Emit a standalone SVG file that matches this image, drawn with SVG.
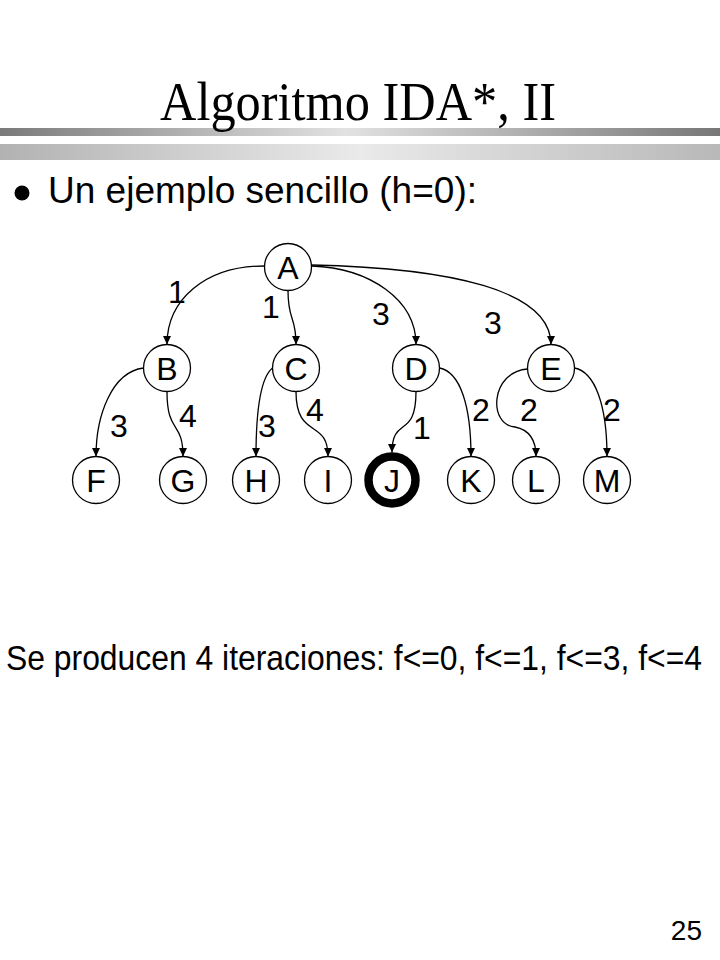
<svg xmlns="http://www.w3.org/2000/svg" width="720" height="960" viewBox="0 0 720 960">
<defs>
<linearGradient id="bar1" x1="0" y1="0" x2="1" y2="0">
<stop offset="0" stop-color="#7a7a7a"/>
<stop offset="0.48" stop-color="#e2e2e2"/>
<stop offset="1" stop-color="#777777"/>
</linearGradient>
<linearGradient id="bar2" x1="0" y1="0" x2="1" y2="0">
<stop offset="0" stop-color="#b2b2b2"/>
<stop offset="0.5" stop-color="#eaeaea"/>
<stop offset="1" stop-color="#b8b8b8"/>
</linearGradient>
<marker id="arr" markerUnits="userSpaceOnUse" markerWidth="9" markerHeight="8" refX="8.5" refY="4" orient="auto">
<path d="M0,0 L8.5,4 L0,8 z" fill="#000"/>
</marker>
</defs>
<style>
.node circle{fill:#fff;stroke:#000;stroke-width:1.3}
.node text{font-family:"Liberation Sans",Arial,sans-serif;font-size:32px;text-anchor:middle;fill:#000}
.edges path{fill:none;stroke:#000;stroke-width:1.3;marker-end:url(#arr)}
.lbl{font-family:"Liberation Sans",Arial,sans-serif;font-size:32px;text-anchor:middle;fill:#000}
</style>
<rect width="720" height="960" fill="#fff"/>
<rect x="0" y="128" width="720" height="8" fill="url(#bar1)"/>
<rect x="0" y="144" width="720" height="16" fill="url(#bar2)"/>
<text x="358" y="120" font-family="'Liberation Serif','Times New Roman',serif" font-size="54" text-anchor="middle" textLength="396" lengthAdjust="spacingAndGlyphs">Algoritmo IDA*, II</text>
<circle cx="22" cy="193" r="7.5" fill="#000"/>
<text x="48" y="203" font-family="'Liberation Sans',Arial,sans-serif" font-size="37" textLength="429" lengthAdjust="spacingAndGlyphs">Un ejemplo sencillo (h=0):</text>

<g class="edges" id="connectors">
<path d="M264,266 C205,266 167,300 167,344.5"/>
<path d="M288,290.5 C288,322 296,315 296,344.5"/>
<path d="M311.5,266 C370,268 416,300 416,344.5"/>
<path d="M311.5,265 C450,268 551,290 551,344.5"/>
<path d="M143.5,368 C112,372 96,415 96,456.5"/>
<path d="M167,391.5 C167,435 183,420 183,456.5"/>
<path d="M272.5,368 C260,378 256,415 256,456.5"/>
<path d="M296,391.5 C296,440 328,418 328,456.5"/>
<path d="M416,391.5 C416,440 392,415 392,452.5"/>
<path d="M439.5,368 C460,372 471,405 471,456.5"/>
<path d="M527.5,369 C490,372 488,425 515,427 C530,430 536,440 536,456.5"/>
<path d="M574.5,368 C595,372 607,405 607,456.5"/>
<text class="lbl" x="177" y="303">1</text>
<text class="lbl" x="271" y="318">1</text>
<text class="lbl" x="381" y="325">3</text>
<text class="lbl" x="493" y="334">3</text>
<text class="lbl" x="119" y="437">3</text>
<text class="lbl" x="188" y="427">4</text>
<text class="lbl" x="267" y="437">3</text>
<text class="lbl" x="315" y="421">4</text>
<text class="lbl" x="422" y="439">1</text>
<text class="lbl" x="481" y="421">2</text>
<text class="lbl" x="529" y="421">2</text>
<text class="lbl" x="612" y="421">2</text>
</g>

<g class="node" id="node-A"><circle cx="288" cy="267" r="23.5"/><text x="288" y="278.5">A</text></g>
<g class="node" id="node-B"><circle cx="167" cy="368" r="23.5"/><text x="167" y="379.5">B</text></g>
<g class="node" id="node-C"><circle cx="296" cy="368" r="23.5"/><text x="296" y="379.5">C</text></g>
<g class="node" id="node-D"><circle cx="416" cy="368" r="23.5"/><text x="416" y="379.5">D</text></g>
<g class="node" id="node-E"><circle cx="551" cy="368" r="23.5"/><text x="551" y="379.5">E</text></g>
<g class="node" id="node-F"><circle cx="96" cy="480" r="23.5"/><text x="96" y="491.5">F</text></g>
<g class="node" id="node-G"><circle cx="183" cy="480" r="23.5"/><text x="183" y="491.5">G</text></g>
<g class="node" id="node-H"><circle cx="256" cy="480" r="23.5"/><text x="256" y="491.5">H</text></g>
<g class="node" id="node-I"><circle cx="328" cy="480" r="23.5"/><text x="328" y="491.5">I</text></g>
<g class="node" id="node-J"><circle cx="392" cy="480" r="23.5" style="stroke-width:8.5"/><text x="392" y="491.5">J</text></g>
<g class="node" id="node-K"><circle cx="471" cy="480" r="23.5"/><text x="471" y="491.5">K</text></g>
<g class="node" id="node-L"><circle cx="536" cy="480" r="23.5"/><text x="536" y="491.5">L</text></g>
<g class="node" id="node-M"><circle cx="607" cy="480" r="23.5"/><text x="607" y="491.5">M</text></g>

<text x="6" y="670" font-family="'Liberation Sans',Arial,sans-serif" font-size="35" textLength="696" lengthAdjust="spacingAndGlyphs">Se producen 4 iteraciones: f&lt;=0, f&lt;=1, f&lt;=3, f&lt;=4</text>
<text x="702" y="940" font-family="'Liberation Sans',Arial,sans-serif" font-size="28" text-anchor="end">25</text>
</svg>
